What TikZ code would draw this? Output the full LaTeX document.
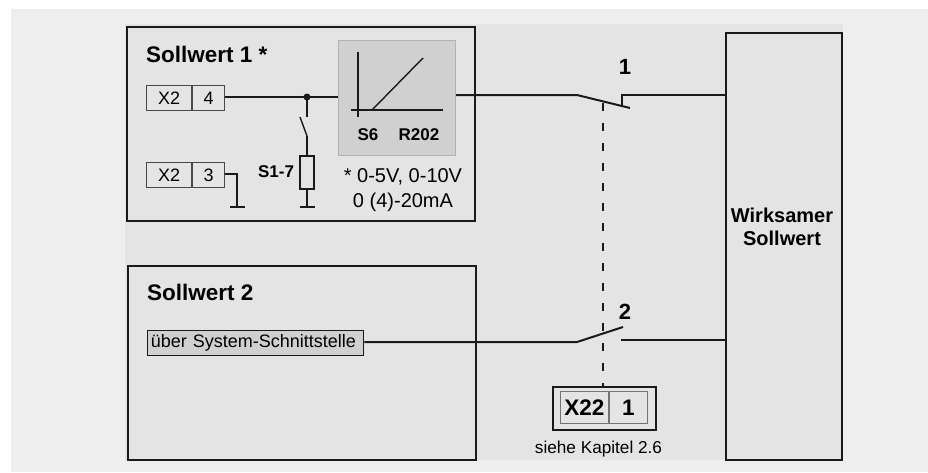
\documentclass[tikz,border=0pt]{standalone}
\usepackage{fontspec}
\setmainfont{Liberation Sans}
\usetikzlibrary{calc}
\usepackage{xcolor}
\definecolor{panelout}{HTML}{EEEEEE}
\definecolor{panelin}{HTML}{E4E4E4}
\definecolor{blockgray}{HTML}{D0D0D0}
\definecolor{inkline}{HTML}{1A1A1A}
\tikzset{
  wire/.style={line width=2pt,draw=inkline},
  thinwire/.style={line width=1.4pt,draw=inkline},
  frame/.style={draw=inkline,line width=1.8pt,fill=panelin,inner sep=0pt},
  termcell/.style={draw=inkline!80,line width=1.1pt,fill=panelin,inner sep=0pt,minimum height=25pt,font=\fontsize{18}{20}\selectfont},
  title/.style={anchor=base west,inner sep=0pt,font=\bfseries\fontsize{22.5}{24}\selectfont},
  tag/.style={anchor=base,inner sep=0pt,font=\bfseries\fontsize{17}{20}\selectfont},
  swnum/.style={anchor=base,inner sep=0pt,font=\bfseries\fontsize{22}{24}\selectfont},
}
\begin{document}
\begin{tikzpicture}[x=1pt,y=-1pt]
\useasboundingbox (0,0) rectangle (928,472);
\fill[panelout] (11,9) rectangle (928,472);
\fill[panelin] (125,24) rectangle (843,460);
% boxes
\node[frame,anchor=north west,minimum width=348pt,minimum height=194pt] (soll1) at (126,26) {};
\node[frame,anchor=north west,minimum width=348pt,minimum height=194pt] (soll2) at (127,265) {};
\node[frame,anchor=north west,minimum width=116pt,minimum height=427pt] (wirk) at (725,32) {};
\node[draw=black!30,line width=1pt,fill=blockgray,anchor=north west,minimum width=117pt,minimum height=115pt] (graph) at (338,40) {};
\node[title] (t1) at (146,62.7) {Sollwert 1 *};
\node[title] (t2) at (147,300.7) {Sollwert 2};
\node[anchor=base,inner sep=0pt,align=center,font=\bfseries\fontsize{20}{23}\selectfont] (wirktxt) at (782,245) {Wirksamer\\Sollwert};
% terminals
\node[termcell,anchor=north west,minimum width=45pt] (xa) at (146,85) {X2};
\node[termcell,anchor=north west,minimum width=32pt] (xb) at (xa.north east) {4};
\node[termcell,anchor=north west,minimum width=45pt] (xc) at (146,162) {X2};
\node[termcell,anchor=north west,minimum width=32pt] (xd) at (xc.north east) {3};
\node[draw=inkline,line width=1.3pt,fill=blockgray,anchor=north west,inner sep=0pt,minimum height=25.5pt,minimum width=216.5pt,text width=209pt,align=left,font=\fontsize{18}{20}\selectfont] (bus) at (146.5,329.5) {über System-Schnittstelle};
% graph inside the block
\coordinate (Ya) at (358,52); \coordinate (Yb) at (358,117);
\coordinate (Xa) at (351,110); \coordinate (Xb) at (443,110);
\coordinate (Ra) at (372,110); \coordinate (Rb) at (423,58);
\draw[thinwire] (Ya) -- (Yb);
\draw[thinwire] (Xa) -- (Xb);
\draw[thinwire] (Ra) -- (Rb);
\node[tag] (s6) at (368,140) {S6};
\node[tag] (r202) at (419,140) {R202};
\node[anchor=base,inner sep=0pt,align=center,font=\fontsize{20}{25}\selectfont] (note) at (403,207.5) {* 0-5V, 0-10V\\0 (4)-20mA};
% input side
\coordinate (J) at (307,97);
\coordinate (Jb) at (307,117); \coordinate (Bl) at (300,117); \coordinate (Bm) at (307,136);
\node[draw=inkline,line width=1.6pt,fill=panelin,inner sep=0pt,minimum width=14pt,minimum height=33pt,anchor=north] (res) at (307,155) {};
\node[tag] (s17) at (276,177) {S1-7};
\coordinate (Gb) at (307,207); \coordinate (Gc) at (237,174); \coordinate (Gd) at (237,207);
\draw[wire] (xb.east |- J) -- (J) -- (graph.west |- J);
\fill[inkline] (J) circle (3.5pt);
\draw[wire] (J) -- (Jb);
\draw[thinwire] (Bl) -- (Bm);
\draw[wire] (Bm) -- (res.north);
\draw[wire] (res.south) -- (Gb);
\draw[thinwire] (xd.east |- Gc) -- (Gc) -- (Gd);
\foreach \p in {Gb,Gd}
  {\draw[wire] ($(\p)+(-7.5,0)$) -- ($(\p)+(7.5,0)$);}
% switches
\coordinate (Sa) at (577,95); \coordinate (Sb) at (630,108); \coordinate (Sc) at (622,106);
\coordinate (Sd) at (622,95);
\coordinate (Ta) at (577,342); \coordinate (Tb) at (623,327); \coordinate (Tc) at (621,340);
\draw[wire] (graph.east |- Sa) -- (Sa) -- (Sb);
\draw[wire] (Sc) -- (Sd) -- (wirk.west |- Sd);
\draw[wire] (bus.east |- Ta) -- (Ta) -- (Tb);
\draw[wire] (Tc) -- (wirk.west |- Tc);
\node[swnum] (n1) at (625,74) {1};
\node[swnum] (n2) at (625,319) {2};
% X22 box
\node[draw=inkline,line width=1.8pt,fill=panelin,anchor=north west,inner sep=0pt,minimum width=103pt,minimum height=43pt] (xout) at (552,386) {};
\node[draw=black!55,line width=0.8pt,anchor=north west,inner sep=0pt,minimum width=48pt,minimum height=32pt,font=\bfseries\fontsize{22.5}{24}\selectfont] (xe) at (560,391) {X22};
\node[draw=black!55,line width=0.8pt,anchor=north west,inner sep=0pt,minimum width=38.5pt,minimum height=32pt,font=\bfseries\fontsize{22.5}{24}\selectfont] (xf) at (xe.north east) {1};
\node[anchor=base,inner sep=0pt,font=\fontsize{17.2}{20}\selectfont] (see) at (598.5,453) {siehe Kapitel 2.6};
% coupling line
\coordinate (Da) at (603,103);
\draw[line width=1.3pt,draw=inkline,dash pattern=on 8pt off 12pt] (Da) -- (Da |- xout.north);
\end{tikzpicture}
\end{document}
